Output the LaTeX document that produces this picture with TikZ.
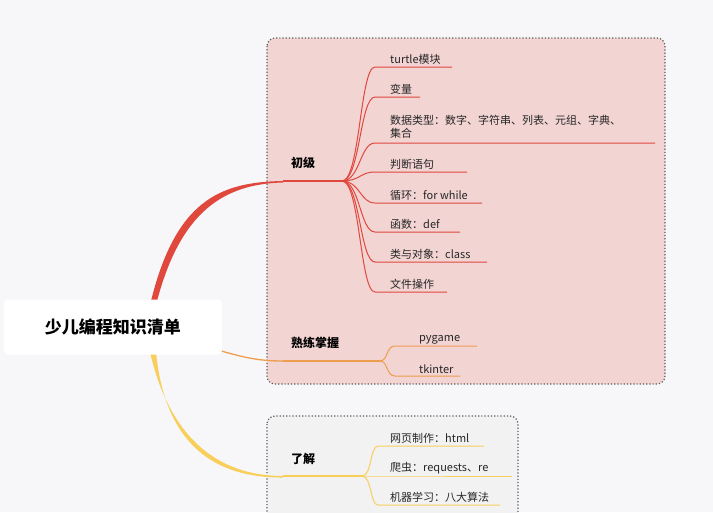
\documentclass[tikz,border=0pt]{standalone}
\usepackage{fontspec}
\setmainfont{Noto Sans CJK SC}
\begin{document}
\begin{tikzpicture}[x=1pt,y=-1pt,
  it/.style={anchor=south west,font=\fontsize{11}{13}\selectfont,inner sep=1pt,text=black!85},
  lv/.style={anchor=south west,font=\fontsize{12}{14}\selectfont\bfseries,inner sep=1pt},
  red/.style={draw=redc,line width=1.3pt},
  org/.style={draw=orgc,line width=1.3pt},
  yel/.style={draw=yelc,line width=1.3pt}]
\definecolor{redc}{HTML}{E0483E}
\definecolor{orgc}{HTML}{EE9C4E}
\definecolor{yelc}{HTML}{F7CF5A}
\useasboundingbox[fill={rgb,255:red,247;green,247;blue,249}] (0,0) rectangle (713,512);
\draw[fill={rgb,255:red,242;green,212;blue,211},draw=black!65,dotted,line width=1.2pt,rounded corners=8pt] (267,38) rectangle (665,384);
\draw[fill={rgb,255:red,242;green,242;blue,243},draw=black!65,dotted,line width=1.2pt,rounded corners=8pt] (267,416) rectangle (518,530);
% main branches
\fill[redc] (150,305) .. controls (175,200) and (220,182) .. (283,181) -- (283,182.5) .. controls (225,184) and (180,210) .. (156,305) -- cycle;
\draw[org] (218,350) .. controls (245,358) and (260,361) .. (283,361);
\fill[yelc] (150,352) .. controls (170,440) and (220,476) .. (283,476) -- (283,477.5) .. controls (215,478) and (165,445) .. (156,352) -- cycle;
\node[draw=none,fill=white,rounded corners=4pt,minimum width=218pt,minimum height=55pt,font=\fontsize{17}{20}\selectfont\bfseries] (root) at (113,327) {少儿编程知识清单};
% level nodes
\node[lv] (l1) at (290,170) {初级};
\node[lv] (l2) at (290,350) {熟练掌握};
\node[lv] (l3) at (290,466) {了解};
\coordinate (h1) at (342,181);
\coordinate (h2) at (380,361);
\coordinate (h3) at (362,476);
\draw[red] (283,181) -- (h1);
\draw[org] (283,361) -- (h2);
\draw[yel] (283,476) -- (h3);
% items level 1
\foreach \y/\e/\t [count=\i] in {67/452/turtle模块,97/420/变量,172/467/判断语句,203/482/循环：for while,232/460/函数：def,262/487/类与对象：class,292/447/文件操作}{
  \node[it] (a\i) at (389,\y-1) {\t};
  \draw[redc,line width=1pt] (h1) .. controls (360,181) and (360,\y) .. (375,\y) -- (\e,\y);
}
\node[it,align=left,anchor=south west] (a8) at (389,140) {数据类型：数字、字符串、列表、元组、字典、\\集合};
\draw[redc,line width=1pt] (h1) .. controls (360,181) and (360,143) .. (375,143) -- (655,143);
% items level 2
\foreach \y/\e/\t [count=\i] in {346/477/pygame,376/460/tkinter}{
  \node[it] (b\i) at (418,\y-1) {\t};
  \draw[orgc,line width=1pt] (h2) .. controls (388,361) and (386,\y) .. (395,\y) -- (\e,\y);
}
% items level 3
\foreach \y/\e/\t [count=\i] in {446/484/网页制作：html,476/512/爬虫：requests、re,505/500/机器学习：八大算法}{
  \node[it] (c\i) at (389,\y-1) {\t};
  \draw[yelc,line width=1pt] (h3) .. controls (372,476) and (370,\y) .. (378,\y) -- (\e,\y);
}
\end{tikzpicture}
\end{document}
